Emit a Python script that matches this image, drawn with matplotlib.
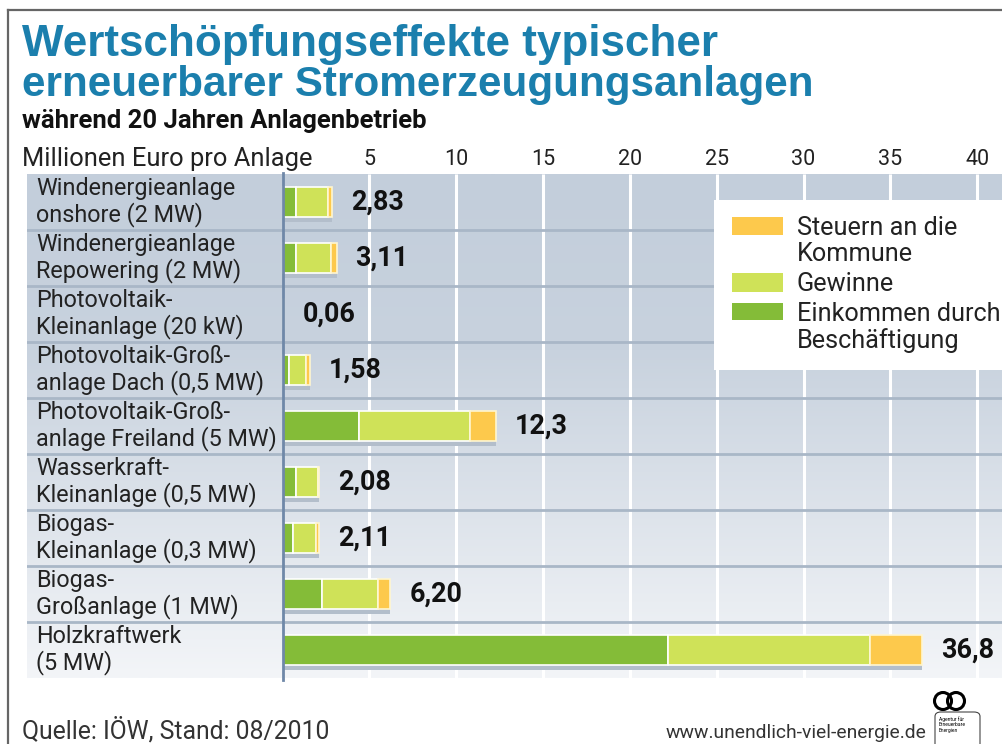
import matplotlib
matplotlib.use("Agg")
import matplotlib.pyplot as plt
import numpy as np
from matplotlib.colors import LinearSegmentedColormap
from matplotlib.patches import Rectangle, FancyBboxPatch, Ellipse
from matplotlib.lines import Line2D

# ---------------- data ----------------
categories = [
    "Windenergieanlage\nonshore (2 MW)",
    "Windenergieanlage\nRepowering (2 MW)",
    "Photovoltaik-\nKleinanlage (20 kW)",
    "Photovoltaik-Groß-\nanlage Dach (0,5 MW)",
    "Photovoltaik-Groß-\nanlage Freiland (5 MW)",
    "Wasserkraft-\nKleinanlage (0,5 MW)",
    "Biogas-\nKleinanlage (0,3 MW)",
    "Biogas-\nGroßanlage (1 MW)",
    "Holzkraftwerk\n(5 MW)",
]
einkommen = [0.80, 0.80, 0.02, 0.40, 4.40, 0.80, 0.58, 2.30, 22.2]
gewinne = [1.80, 1.97, 0.03, 0.97, 6.40, 1.22, 1.32, 3.20, 11.6]
steuern = [0.23, 0.34, 0.01, 0.21, 1.50, 0.06, 0.21, 0.70, 3.0]
total_labels = ["2,83", "3,11", "0,06", "1,58", "12,3", "2,08", "2,11", "6,20", "36,8"]
xticks = [5, 10, 15, 20, 25, 30, 35, 40]
legend_labels = ["Steuern an die\nKommune", "Gewinne", "Einkommen durch\nBeschäftigung"]

title1 = "Wertschöpfungseffekte typischer"
title2 = "erneuerbarer Stromerzeugungsanlagen"
subtitle = "während 20 Jahren Anlagenbetrieb"
unit_label = "Millionen Euro pro Anlage"
source = "Quelle: IÖW, Stand: 08/2010"
url = "www.unendlich-viel-energie.de"

# ---------------- styles ----------------
W, H = 1002, 744
C_EMP = "#84bc38"
C_GEW = "#cfe258"
C_TAX = "#fdc94c"
C_TITLE = "#1b7fad"
C_TEXT = "#222222"
BODY = ["Roboto", "DejaVu Sans"]

fig = plt.figure(figsize=(W / 100, H / 100), dpi=100)
fig.patch.set_facecolor("white")
renderer = fig.canvas.get_renderer()


def fx(px):
    return px / W


def fy(py):
    return 1 - py / H


def fit(t, width_px):
    bb = t.get_window_extent(renderer)
    t.set_fontsize(t.get_fontsize() * width_px / bb.width)
    return t


def fitted_size(sample, width_px, **kw):
    p = fig.text(0, 0, sample, fontsize=15, **kw)
    fit(p, width_px)
    s = p.get_fontsize()
    p.remove()
    return s


# axes geometry (pixels)
ax_l, ax_r, ax_t, ax_b = 27, 1002, 174, 678
ax = fig.add_axes([fx(ax_l), fy(ax_b), (ax_r - ax_l) / W, (ax_b - ax_t) / H])
scale = 17.37
zero_px = 282.5
xmin = (ax_l - zero_px) / scale
xmax = (ax_r - zero_px) / scale
n = len(categories)

# background gradient
cmap = LinearSegmentedColormap.from_list(
    "bg", [(0, "#c3cedb"), (0.35, "#c8d2de"), (1.0, "#f3f5f8")])
ax.imshow(np.linspace(0, 1, 256).reshape(-1, 1), extent=[xmin, xmax, n, 0],
          aspect="auto", cmap=cmap, zorder=0, interpolation="bilinear")

# white grid lines
for xt in xticks:
    ax.plot([xt, xt], [0, n], color="white", lw=2.2, zorder=1,
            solid_capstyle="butt")
# row separators
for i in range(1, n):
    ax.plot([xmin, xmax], [i, i], color="#a9b7c7", lw=2, zorder=1.5)

# legend white box
ax.add_patch(Rectangle((24.85, 0.46), xmax - 24.85, 3.04, facecolor="white",
                       edgecolor="none", zorder=2))

# bars
y = np.arange(n) + 0.5
bh = 0.52
emp = np.array(einkommen)
gew = np.array(gewinne)
tax = np.array(steuern)
tot = emp + gew + tax
ax.barh(y + 0.1, tot, height=bh, left=0, color="#b3becb", zorder=3)
ax.barh(y, emp, height=bh, left=0, color=C_EMP, edgecolor="white", lw=1.2, zorder=4)
ax.barh(y, gew, height=bh, left=emp, color=C_GEW, edgecolor="white", lw=1.2, zorder=4)
ax.barh(y, tax, height=bh, left=emp + gew, color=C_TAX, edgecolor="#fff6d0", lw=1.2, zorder=4)

# axis line at zero
ax.plot([0, 0], [-0.02, n + 0.04], color="#6f88a8", lw=2, zorder=5, clip_on=False)

# value labels
vs = fitted_size("12,3", 53, fontweight="bold", family=BODY)
for yi, t, lab in zip(y, tot, total_labels):
    ax.annotate(lab, xy=(t, yi), xytext=(19, 0), textcoords="offset pixels",
                va="center", ha="left", fontsize=vs, fontweight="bold",
                color="#111111", family=BODY, zorder=6)

# category labels
cs = fitted_size("Windenergieanlage", 199, family=BODY)
for yi, lab in zip(y, categories):
    ax.text((36 - ax_l) / (ax_r - ax_l), yi, lab, transform=ax.get_yaxis_transform(),
            va="center", ha="left", fontsize=cs, color=C_TEXT, family=BODY,
            linespacing=1.15, zorder=6)

# legend items
ls = fitted_size("Einkommen durch", 203, family=BODY)
leg_colors = [C_TAX, C_GEW, C_EMP]
leg_patch_y = [(217, 235), (273, 292), (303, 320)]
leg_top = [216, 272, 302]
px_to_x = lambda px: (px - zero_px) / scale
px_to_y = lambda py: (py - ax_t) / (ax_b - ax_t) * n
for col, (t0, t1), top, lab in zip(leg_colors, leg_patch_y, leg_top, legend_labels):
    ax.add_patch(Rectangle((px_to_x(732), px_to_y(t0)), px_to_x(783) - px_to_x(732),
                           px_to_y(t1) - px_to_y(t0), facecolor=col, edgecolor="none",
                           zorder=6))
    ax.text(px_to_x(797), px_to_y(top), lab, va="top", ha="left",
            fontsize=ls, color=C_TEXT, family=BODY, linespacing=1.12,
            zorder=6)

ax.set_xlim(xmin, xmax)
ax.set_ylim(n, 0)
ax.set_yticks([])
ax.xaxis.tick_top()
ax.set_xticks(xticks)
ax.set_xticklabels([str(v) for v in xticks], family=BODY)
ax.tick_params(axis="x", length=0, pad=3, labelsize=15.5, labelcolor=C_TEXT)
for s in ax.spines.values():
    s.set_visible(False)

# texts in figure
t1 = fig.text(fx(22), fy(56), title1, fontsize=28, fontweight="bold", color=C_TITLE,
              family=["Liberation Sans", "DejaVu Sans"], va="baseline", ha="left")
t2 = fig.text(fx(22), fy(96), title2, fontsize=28, fontweight="bold", color=C_TITLE,
              family=["Liberation Sans", "DejaVu Sans"], va="baseline", ha="left")
st = fig.text(fx(22), fy(128), subtitle, fontsize=16, fontweight="bold", color="#111111",
              family=BODY, va="baseline", ha="left")
ul = fig.text(fx(22), fy(166), unit_label, fontsize=16, color=C_TEXT,
              family=BODY, va="baseline", ha="left")
sr = fig.text(fx(22), fy(738), source, fontsize=15, color="#333333",
              family=BODY, va="baseline", ha="left")
ur = fig.text(fx(666), fy(738), url, fontsize=12, color="#333333",
              family=BODY, va="baseline", ha="left")

fit(t1, 696)
fit(t2, 790)
fit(st, 405)
fit(ul, 291)
fit(sr, 308)
fit(ur, 259)

# logo
fig.add_artist(Ellipse((fx(943), fy(701)), 17 / W, 17 / H, facecolor="none",
                       edgecolor="black", lw=2.2))
fig.add_artist(Ellipse((fx(956), fy(701)), 17 / W, 17 / H, facecolor="none",
                       edgecolor="black", lw=2.2))
fig.add_artist(FancyBboxPatch((fx(935), fy(750)), 45 / W, 38 / H,
                              boxstyle="round,pad=0,rounding_size=0.006",
                              facecolor="white", edgecolor="#444444", lw=0.8))
fig.text(fx(939), fy(716), "Agentur für\nErneuerbare\nEnergien", fontsize=3.6,
         color="black", family=BODY, va="top", ha="left", linespacing=1.1)

# frame lines
fig.add_artist(Line2D([fx(8), fx(8)], [fy(10), 0], color="#666666", lw=1.6))
fig.add_artist(Line2D([fx(8), 1], [fy(10), fy(10)], color="#666666", lw=1.6))

fig.savefig("out.png", dpi=100, facecolor="white")
